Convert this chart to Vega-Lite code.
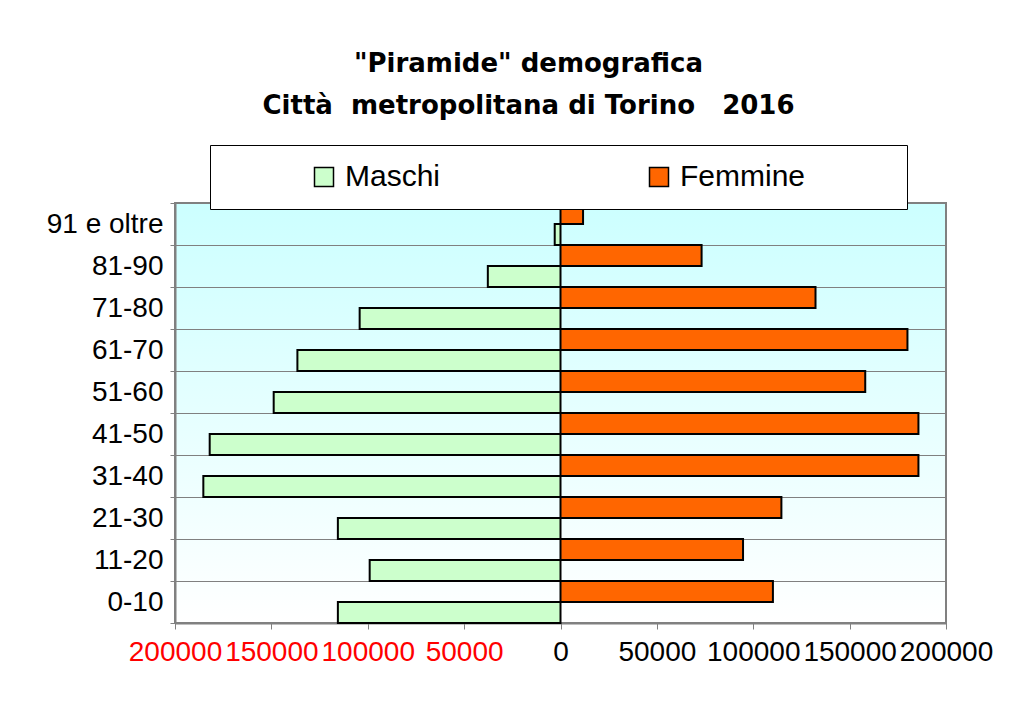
{
  "$schema": "https://vega.github.io/schema/vega-lite/v6.json",
  "width": 771,
  "height": 420,
  "autosize": {"type": "none"},
  "padding": {"left": 175, "top": 203, "right": 70, "bottom": 101},
  "background": "white",
  "title": {
    "text": ["\"Piramide\" demografica", "Città\u00a0 metropolitana di Torino \u00a0 2016"],
    "font": "DejaVu Sans",
    "fontSize": 26,
    "fontWeight": "bold",
    "color": "black",
    "lineHeight": 42,
    "anchor": "middle",
    "offset": 26,
    "dx": -32
  },
  "data": {
    "values": [
      {"age": "91 e oltre", "sex": "Maschi", "value": -3000},
      {"age": "81-90", "sex": "Maschi", "value": -37700},
      {"age": "71-80", "sex": "Maschi", "value": -104200},
      {"age": "61-70", "sex": "Maschi", "value": -136500},
      {"age": "51-60", "sex": "Maschi", "value": -148800},
      {"age": "41-50", "sex": "Maschi", "value": -182000},
      {"age": "31-40", "sex": "Maschi", "value": -185300},
      {"age": "21-30", "sex": "Maschi", "value": -115500},
      {"age": "11-20", "sex": "Maschi", "value": -99000},
      {"age": "0-10", "sex": "Maschi", "value": -115500},
      {"age": "91 e oltre", "sex": "Femmine", "value": 11700},
      {"age": "81-90", "sex": "Femmine", "value": 73200},
      {"age": "71-80", "sex": "Femmine", "value": 132300},
      {"age": "61-70", "sex": "Femmine", "value": 180000},
      {"age": "51-60", "sex": "Femmine", "value": 158100},
      {"age": "41-50", "sex": "Femmine", "value": 185700},
      {"age": "31-40", "sex": "Femmine", "value": 185700},
      {"age": "21-30", "sex": "Femmine", "value": 114600},
      {"age": "11-20", "sex": "Femmine", "value": 94700},
      {"age": "0-10", "sex": "Femmine", "value": 110200}
    ]
  },
  "mark": {"type": "bar", "stroke": "black", "strokeWidth": 2},
  "encoding": {
    "y": {
      "field": "age",
      "type": "nominal",
      "sort": ["91 e oltre", "81-90", "71-80", "61-70", "51-60", "41-50", "31-40", "21-30", "11-20", "0-10"],
      "scale": {"paddingInner": 0, "paddingOuter": 0},
      "axis": {
        "title": null,
        "tickBand": "extent",
        "grid": true,
        "gridColor": "#808080",
        "gridWidth": 1,
        "tickColor": "#808080",
        "tickSize": 5,
        "labelFont": "Liberation Sans",
        "labelFontSize": 28,
        "labelColor": "black",
        "labelPadding": 7,
        "domainColor": "#808080",
        "domainWidth": 2
      }
    },
    "yOffset": {
      "field": "sex",
      "type": "nominal",
      "sort": ["Femmine", "Maschi"],
      "scale": {"paddingInner": 0, "paddingOuter": 0}
    },
    "x": {
      "field": "value",
      "type": "quantitative",
      "scale": {"domain": [-200000, 200000], "nice": false},
      "axis": {
        "title": null,
        "grid": false,
        "values": [-200000, -150000, -100000, -50000, 0, 50000, 100000, 150000, 200000],
        "labelExpr": "format(abs(datum.value), 'd')",
        "labelColor": {"condition": {"test": "datum.value < 0", "value": "#ff0000"}, "value": "black"},
        "labelFont": "Liberation Sans",
        "labelFontSize": 28,
        "labelOverlap": false,
        "labelFlush": false,
        "labelPadding": 9,
        "tickSize": 6,
        "tickColor": "#808080",
        "domainColor": "#808080",
        "domainWidth": 2
      }
    },
    "color": {
      "field": "sex",
      "type": "nominal",
      "scale": {"domain": ["Maschi", "Femmine"], "range": ["#ccffcc", "#ff6600"]},
      "legend": {
        "title": "\u00a0",
        "titleOrient": "right",
        "titlePadding": 85,
        "titleFontSize": 28,
        "orient": "none",
        "legendX": 35,
        "legendY": -58,
        "direction": "horizontal",
        "fillColor": "white",
        "strokeColor": "black",
        "padding": 17,
        "symbolType": "square",
        "symbolSize": 361,
        "symbolStrokeColor": "black",
        "symbolStrokeWidth": 1.5,
        "symbolOffset": 82,
        "labelFont": "Liberation Sans",
        "labelFontSize": 30,
        "labelColor": "black",
        "labelOffset": 6,
        "columnPadding": 121
      }
    }
  },
  "config": {
    "view": {
      "stroke": "#808080",
      "strokeWidth": 2,
      "fill": {
        "gradient": "linear",
        "x1": 0, "y1": 0, "x2": 0, "y2": 1,
        "stops": [{"offset": 0, "color": "#ccffff"}, {"offset": 1, "color": "#ffffff"}]
      }
    }
  }
}
